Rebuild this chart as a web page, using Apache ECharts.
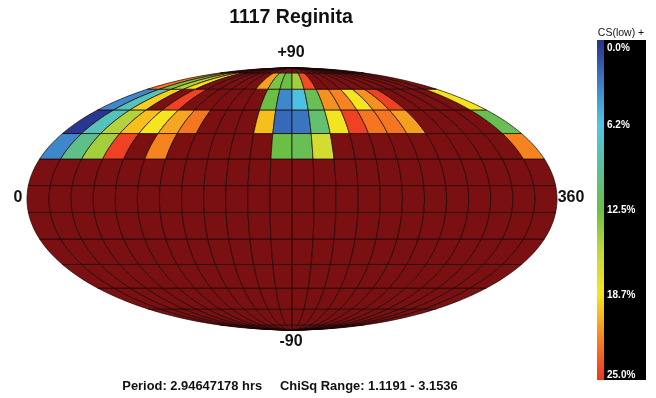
<!DOCTYPE html>
<html>
<head>
<meta charset="utf-8">
<style>
  html, body { margin: 0; padding: 0; background: #fff; }
  #myChart { width: 656px; height: 398px; }
</style>
</head>
<body>
<div id="myChart"></div>
<script src="https://cdn.jsdelivr.net/npm/echarts@6/dist/echarts.min.js"></script>
<script>
// latitude edges of the bands, south to north
const latEdges = [-90, -82.5, -67.5, -52.5, -37.5, -22.5, -7.5, 7.5, 22.5, 37.5, 52.5, 67.5, 82.5, 90]
const lonStep = 15
const lonCols = 24

// percent per longitude column, null = above the range (dark red)
const band22to37 = [3.5, 10, 14.5, 24.5, null, 22, null, null, null, null, null, 12.5, 12, 16.5, null, null, null, null, null, null, null, null, null, 22]
const band37to52 = [0.3, 8, 15, 20, 18.7, 20.8, 22.5, null, null, null, 20, 2.3, 2.8, 11, 18.5, 24.5, 22.5, 22.5, 21, null, null, null, null, 12]
const band52to67 = [3.5, 8, 19.5, null, 24.5, null, null, null, null, null, 12.5, 3.5, 6, 12, 21.5, 22, 18.7, 21.5, 24.5, null, null, null, null, 18.5]
const band67to82 = [22.5, 13, 15, 19, null, null, null, null, null, 21, 13, 12.5, 14.5, 24, null, null, null, null, null, null, null, null, null, null]

// scale stops, evenly spaced from 0 to 25
const scaleColors = ['#27308c', '#3c7ec6', '#4fc6e6', '#5cbf9a', '#6cbf45', '#c4d838', '#f6e51e', '#f5861f', '#ee3424']
const outOfRangeColor = '#7a1011'
const scaleTicks = [0, 6.25, 12.5, 18.75, 25]
const scaleLabels = ['0.0%', '6.2%', '12.5%', '18.7%', '25.0%']

const bandValues = { 22.5: band22to37, 37.5: band37to52, 52.5: band52to67, 67.5: band67to82 }

// Mollweide, result is in -1..1 on both axes
function project(lon, lat) {
  const phi = lat * Math.PI / 180
  let t = phi
  if (Math.abs(lat) === 90) {
    t = phi
  } else {
    for (let i = 0; i < 30; i++) {
      t -= (2 * t + Math.sin(2 * t) - Math.PI * Math.sin(phi)) / (2 + 2 * Math.cos(2 * t))
    }
  }
  return [(lon - 180) / 180 * Math.cos(t), Math.sin(t)]
}

const cells = []
for (let b = 0; b < latEdges.length - 1; b++) {
  const values = bandValues[latEdges[b]]
  for (let c = 0; c < lonCols; c++) {
    cells.push([c * lonStep, (c + 1) * lonStep, latEdges[b], latEdges[b + 1], values ? values[c] : null])
  }
}

function renderCell(params, api) {
  const lon0 = api.value(0)
  const lon1 = api.value(1)
  const lat0 = api.value(2)
  const lat1 = api.value(3)
  const v = cells[params.dataIndex][4]
  const pts = []
  const steps = 8
  for (let i = 0; i <= steps; i++) {
    pts.push(api.coord(project(lon0, lat0 + (lat1 - lat0) * i / steps)))
  }
  for (let i = steps; i >= 0; i--) {
    pts.push(api.coord(project(lon1, lat0 + (lat1 - lat0) * i / steps)))
  }
  const color = v === null ? outOfRangeColor : echarts.color.lerp(v / 25, scaleColors)
  return {
    type: 'polygon',
    shape: { points: pts },
    style: { fill: color, stroke: '#170405', lineWidth: 0.7 }
  }
}

// colour strip on the left edge of the black box
function renderStrip(params, api) {
  const top = api.coord([0, api.value(1)])
  const bottom = api.coord([0, api.value(2)])
  const stops = scaleColors.map((c, i) => ({ offset: i / (scaleColors.length - 1), color: c }))
  return {
    type: 'rect',
    shape: { x: top[0], y: top[1], width: 7, height: bottom[1] - top[1] },
    style: { fill: new echarts.graphic.LinearGradient(0, 0, 0, 1, stops) }
  }
}

const myChart = echarts.init(document.getElementById('myChart'), null, { renderer: 'canvas' })
const font = '"Liberation Sans", Arial, sans-serif'
const boldText = (text, left, top, size) => ({
  text: text,
  left: left,
  top: top,
  textAlign: 'center',
  padding: 0,
  textStyle: { fontFamily: font, fontWeight: 'bold', fontSize: size, color: '#111' }
})

const option = {
  animation: false,
  backgroundColor: '#fff',
  title: [
    boldText('1117 Reginita', 291, 8, 19.5),
    boldText('+90', 291, 45, 16),
    boldText('-90', 291, 334, 16),
    boldText('0', 18, 190, 16),
    boldText('360', 571, 190, 16),
    boldText('Period: 2.94647178 hrs     ChiSq Range: 1.1191 - 3.1536', 290, 380, 12.9),
    {
      text: 'CS(low) +',
      left: 621,
      top: 28,
      textAlign: 'center',
      padding: 0,
      textStyle: { fontFamily: font, fontWeight: 'normal', fontSize: 10.5, color: '#111' }
    }
  ],
  grid: [
    { left: 27, top: 68, width: 530, height: 262, show: false },
    { left: 597, top: 40, width: 49, height: 340, show: true, backgroundColor: '#000', borderWidth: 0 }
  ],
  xAxis: [
    { gridIndex: 0, type: 'value', min: -1, max: 1, show: false },
    { gridIndex: 1, type: 'value', min: 0, max: 1, show: false }
  ],
  yAxis: [
    { gridIndex: 0, type: 'value', min: -1, max: 1, show: false },
    {
      gridIndex: 1,
      type: 'value',
      inverse: true,
      min: scaleTicks[0],
      max: scaleTicks[scaleTicks.length - 1],
      interval: scaleTicks[1],
      axisLine: { show: false },
      axisTick: { show: false },
      splitLine: { show: false },
      axisLabel: {
        inside: true,
        margin: 10,
        color: '#fff',
        fontFamily: font,
        fontWeight: 'bold',
        fontSize: 10,
        verticalAlignMinLabel: 'top',
        verticalAlignMaxLabel: 'bottom',
        formatter: (v) => v === scaleTicks[0] ? '{first|' + scaleLabels[0] + '}' : scaleLabels[scaleTicks.indexOf(v)],
        rich: {
          first: { color: '#fff', fontFamily: font, fontWeight: 'bold', fontSize: 10, padding: [3, 0, 0, 0] }
        }
      }
    }
  ],
  series: [
    {
      type: 'custom',
      xAxisIndex: 0,
      yAxisIndex: 0,
      coordinateSystem: 'cartesian2d',
      clip: false,
      silent: true,
      encode: { x: [0, 1], y: [2, 3] },
      renderItem: renderCell,
      data: cells.map(c => c.slice(0, 4))
    },
    {
      type: 'custom',
      xAxisIndex: 1,
      yAxisIndex: 1,
      coordinateSystem: 'cartesian2d',
      silent: true,
      encode: { x: 0, y: [1, 2] },
      renderItem: renderStrip,
      data: [[0, scaleTicks[0], scaleTicks[scaleTicks.length - 1]]]
    }
  ]
}
myChart.setOption(option)
</script>
</body>
</html>
